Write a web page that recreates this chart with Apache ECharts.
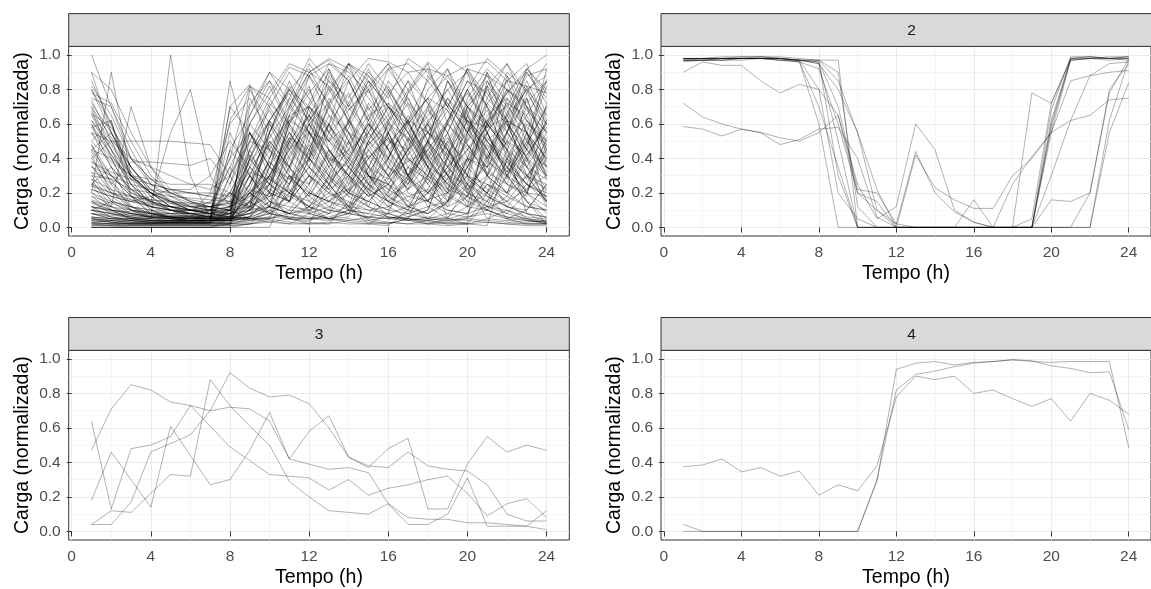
<!DOCTYPE html>
<html>
<head>
<meta charset="utf-8">
<script src="https://cdn.jsdelivr.net/npm/echarts@6/dist/echarts.min.js"></script>
<style>
  html, body { margin: 0; padding: 0; background: #ffffff; }
  #chart { width: 1151px; height: 589px; }
</style>
</head>
<body>
<div id="chart"></div>
<script>
// Hour of day for every profile point
const hours = [1,2,3,4,5,6,7,8,9,10,11,12,13,14,15,16,17,18,19,20,21,22,23,24];

// Axis breaks
const xTicks = [0, 4, 8, 12, 16, 20, 24];
const xMinorTicks = [2, 6, 10, 14, 18, 22];
const yTicks = [0, 0.2, 0.4, 0.6, 0.8, 1.0];
const yMinorTicks = [0.1, 0.3, 0.5, 0.7, 0.9];

// Facet labels
const clusterLabels = ['1', '2', '3', '4'];

// Normalised daily load profiles, cluster 1
const cluster1 = [
  [0.65,0.45,0.22,0.10,0.05,0.04,0.03,0.10,0.45,0.62,0.80,0.92,0.70,0.55,0.48,0.60,0.52,0.35,0.48,0.70,0.85,0.62,0.55,0.40],
  [0.05,0.03,0.02,0.02,0.02,0.02,0.02,0.30,0.72,0.85,0.60,0.40,0.88,0.65,0.30,0.25,0.45,0.68,0.55,0.22,0.30,0.75,0.62,0.48],
  [0.80,0.60,0.30,0.15,0.12,0.10,0.08,0.06,0.25,0.50,0.35,0.20,0.15,0.30,0.58,0.85,0.70,0.40,0.25,0.18,0.42,0.66,0.90,0.75],
  [0.12,0.06,0.04,0.03,0.03,0.03,0.03,0.02,0.10,0.12,0.08,0.10,0.15,0.12,0.10,0.08,0.12,0.16,0.20,0.35,0.55,0.30,0.15,0.10],
  [0.02,0.01,0.01,0.01,0.01,0.01,0.01,0.01,0.02,0.03,0.02,0.02,0.03,0.02,0.02,0.03,0.02,0.02,0.05,0.04,0.03,0.02,0.02,0.02],
  [0.45,0.30,0.18,0.12,0.10,0.08,0.10,0.40,0.82,0.75,0.93,0.88,0.95,0.90,0.78,0.92,0.95,0.85,0.70,0.92,0.88,0.80,0.72,0.85],
  [0.30,0.15,0.08,0.06,0.05,0.05,0.04,0.05,0.08,0.30,0.52,0.45,0.25,0.10,0.08,0.20,0.48,0.60,0.30,0.12,0.55,0.80,0.70,0.35],
  [0.20,0.90,0.30,0.20,0.15,0.10,0.08,0.20,0.15,0.40,0.62,0.55,0.38,0.45,0.30,0.18,0.25,0.40,0.22,0.55,0.68,0.42,0.30,0.25],
  [1.00,0.70,0.40,0.35,0.30,0.25,0.22,0.30,0.50,0.45,0.65,0.70,0.60,0.78,0.50,0.40,0.62,0.55,0.45,0.70,0.58,0.64,0.80,0.55],
  [0.58,0.62,0.18,0.08,0.06,0.05,0.05,0.04,0.06,0.18,0.22,0.12,0.08,0.28,0.42,0.30,0.12,0.08,0.20,0.65,0.90,0.55,0.38,0.62],
  [0.06,0.05,0.04,0.04,0.03,0.04,0.05,0.85,0.40,0.25,0.60,0.82,0.45,0.30,0.55,0.72,0.50,0.28,0.15,0.40,0.35,0.20,0.48,0.70],
  [0.15,0.12,0.70,0.35,0.18,0.12,0.10,0.10,0.35,0.20,0.42,0.60,0.38,0.22,0.50,0.35,0.60,0.75,0.45,0.30,0.20,0.38,0.25,0.18],
  [0.40,0.50,0.50,0.50,0.50,0.49,0.48,0.30,0.10,0.25,0.50,0.40,0.65,0.55,0.40,0.52,0.38,0.45,0.60,0.48,0.35,0.50,0.42,0.60],
  [0.10,0.08,0.06,0.05,1.00,0.30,0.05,0.04,0.15,0.55,0.32,0.70,0.50,0.60,0.85,0.55,0.30,0.50,0.85,0.62,0.45,0.28,0.60,0.50],
  [0.25,0.20,0.18,0.15,0.55,0.80,0.30,0.12,0.35,0.62,0.78,0.55,0.92,0.60,0.35,0.28,0.45,0.80,0.92,0.70,0.50,0.62,0.80,0.88],
  [0.03,0.02,0.02,0.02,0.02,0.02,0.02,0.03,0.80,0.60,0.35,0.15,0.10,0.08,0.30,0.15,0.10,0.05,0.04,0.05,0.62,0.85,0.55,0.30],
  [0.72,0.55,0.35,0.20,0.12,0.08,0.06,0.05,0.22,0.48,0.30,0.18,0.35,0.50,0.25,0.40,0.65,0.48,0.30,0.25,0.72,0.60,0.45,0.92],
  [0.08,0.05,0.05,0.04,0.04,0.04,0.04,0.04,0.05,0.05,0.10,0.25,0.60,0.95,0.80,0.52,0.30,0.15,0.10,0.08,0.12,0.10,0.06,0.05],
  [0.35,0.25,0.38,0.38,0.37,0.36,0.40,0.25,0.60,0.82,0.58,0.42,0.70,0.88,0.65,0.45,0.55,0.70,0.35,0.50,0.72,0.85,0.95,0.65],
  [0.18,0.10,0.08,0.06,0.06,0.05,0.05,0.06,0.18,0.38,0.25,0.48,0.30,0.18,0.12,0.35,0.22,0.50,0.68,0.40,0.18,0.12,0.25,0.20],
  [0.50,0.62,0.28,0.12,0.08,0.06,0.05,0.05,0.08,0.12,0.48,0.72,0.95,0.85,0.62,0.92,0.75,0.50,0.85,0.65,0.40,0.55,0.92,0.78],
  [0.01,0.01,0.00,0.00,0.00,0.00,0.00,0.00,0.45,0.20,0.05,0.02,0.25,0.12,0.02,0.01,0.10,0.35,0.05,0.02,0.01,0.40,0.15,0.02],
  [0.62,0.45,0.30,0.20,0.15,0.13,0.12,0.15,0.55,0.40,0.75,0.98,0.85,0.70,0.92,0.65,0.50,0.88,0.72,0.55,0.82,0.68,0.45,0.30],
  [0.22,0.18,0.15,0.13,0.12,0.10,0.12,0.18,0.32,0.28,0.20,0.35,0.25,0.40,0.30,0.22,0.35,0.28,0.40,0.55,0.38,0.30,0.45,0.35],
  [0.05,0.04,0.03,0.03,0.03,0.03,0.03,0.03,0.04,0.05,0.30,0.08,0.05,0.06,0.20,0.05,0.04,0.06,0.05,0.25,0.05,0.04,0.03,0.04],
  [0.68,0.40,0.20,0.15,0.12,0.10,0.10,0.12,0.20,0.35,0.55,0.40,0.30,0.62,0.85,0.70,0.58,0.35,0.28,0.70,0.55,0.32,0.75,0.42],
  [0.12,0.10,0.09,0.08,0.08,0.08,0.20,0.60,0.75,0.55,0.85,0.60,0.40,0.35,0.55,0.78,0.90,0.72,0.42,0.30,0.65,0.75,0.55,0.15],
  [0.28,0.12,0.06,0.04,0.03,0.03,0.03,0.08,0.30,0.15,0.08,0.12,0.20,0.15,0.10,0.12,0.18,0.22,0.10,0.08,0.30,0.20,0.12,0.10],
  [0.75,0.70,0.45,0.25,0.18,0.14,0.12,0.10,0.65,0.85,0.70,0.90,0.82,0.68,0.80,0.95,0.72,0.60,0.80,0.90,0.55,0.72,0.65,0.85],
  [0.00,0.00,0.00,0.00,0.00,0.00,0.00,0.05,0.20,0.30,0.45,0.55,0.50,0.40,0.60,0.50,0.45,0.55,0.48,0.20,0.15,0.08,0.05,0.03],
  [0.42,0.20,0.15,0.18,0.22,0.20,0.18,0.15,0.30,0.20,0.15,0.30,0.55,0.38,0.20,0.48,0.62,0.40,0.25,0.52,0.82,0.45,0.28,0.50],
  [0.08,0.05,0.04,0.03,0.03,0.03,0.03,0.70,0.83,0.45,0.22,0.10,0.05,0.08,0.25,0.12,0.06,0.10,0.42,0.68,0.30,0.12,0.08,0.06],
  [0.55,0.50,0.40,0.28,0.20,0.15,0.10,0.08,0.12,0.20,0.62,0.80,0.55,0.85,0.62,0.40,0.78,0.95,0.60,0.45,0.35,0.88,0.70,0.60],
  [0.15,0.08,0.05,0.05,0.05,0.04,0.04,0.04,0.10,0.62,0.40,0.25,0.45,0.28,0.18,0.25,0.12,0.30,0.22,0.18,0.48,0.35,0.20,0.45],
  [0.35,0.30,0.25,0.22,0.20,0.20,0.18,0.40,0.55,0.35,0.28,0.40,0.72,0.50,0.35,0.60,0.40,0.30,0.55,0.80,0.60,0.45,0.35,0.55],
  [0.02,0.02,0.02,0.02,0.02,0.02,0.02,0.02,0.02,0.10,0.05,0.03,0.02,0.15,0.05,0.03,0.02,0.04,0.02,0.03,0.20,0.05,0.02,0.02],
  [0.60,0.35,0.12,0.06,0.05,0.05,0.05,0.25,0.50,0.68,0.45,0.30,0.22,0.50,0.70,0.45,0.20,0.15,0.32,0.58,0.40,0.25,0.18,0.72],
  [0.10,0.15,0.12,0.10,0.08,0.10,0.15,0.20,0.12,0.55,0.75,0.62,0.80,0.95,0.88,0.75,0.98,0.90,0.70,0.62,0.58,0.78,0.92,1.00],
  [0.25,0.35,0.22,0.15,0.10,0.08,0.06,0.05,0.40,0.25,0.15,0.55,0.35,0.20,0.15,0.30,0.52,0.35,0.60,0.92,0.70,0.40,0.52,0.28],
  [0.05,0.03,0.02,0.02,0.02,0.02,0.02,0.02,0.03,0.12,0.50,0.65,0.38,0.20,0.15,0.10,0.28,0.50,0.30,0.15,0.10,0.18,0.40,0.22],
  [0.82,0.65,0.40,0.25,0.15,0.10,0.08,0.06,0.05,0.12,0.08,0.20,0.45,0.30,0.12,0.08,0.35,0.50,0.22,0.40,0.75,0.95,0.70,0.50],
  [0.38,0.32,0.28,0.25,0.22,0.22,0.30,0.50,0.35,0.48,0.62,0.70,0.58,0.48,0.65,0.72,0.62,0.75,0.68,0.50,0.62,0.70,0.58,0.48],
  [0.00,0.00,0.00,0.00,0.00,0.00,0.00,0.00,0.00,0.00,0.25,0.60,0.45,0.30,0.18,0.40,0.62,0.35,0.15,0.55,0.80,0.62,0.40,0.12],
  [0.48,0.25,0.12,0.08,0.06,0.06,0.05,0.06,0.15,0.08,0.30,0.18,0.10,0.35,0.22,0.55,0.35,0.20,0.12,0.35,0.60,0.48,0.65,0.38],
  [0.20,0.15,0.12,0.10,0.10,0.10,0.08,0.12,0.60,0.78,0.95,0.90,0.97,0.85,0.98,0.96,0.90,0.92,0.88,0.94,0.96,0.85,0.82,0.78],
  [0.03,0.04,0.03,0.02,0.03,0.03,0.10,0.35,0.20,0.08,0.15,0.40,0.25,0.12,0.45,0.30,0.15,0.05,0.08,0.18,0.10,0.05,0.10,0.25],
  [0.66,0.50,0.25,0.10,0.06,0.04,0.04,0.04,0.20,0.30,0.55,0.35,0.60,0.40,0.25,0.62,0.85,0.55,0.40,0.28,0.20,0.55,0.82,0.60],
  [0.12,0.10,0.05,0.04,0.04,0.04,0.04,0.12,0.40,0.70,0.90,0.75,0.55,0.42,0.60,0.35,0.25,0.48,0.75,0.55,0.90,0.72,0.50,0.35],
  [0.30,0.28,0.10,0.05,0.04,0.04,0.04,0.04,0.05,0.06,0.05,0.05,0.06,0.10,0.08,0.06,0.05,0.30,0.62,0.85,0.78,0.60,0.35,0.15],
  [0.90,0.55,0.30,0.20,0.12,0.08,0.06,0.10,0.30,0.15,0.40,0.62,0.45,0.25,0.40,0.52,0.30,0.62,0.45,0.25,0.15,0.30,0.50,0.82],
  [0.10,0.06,0.04,0.03,0.03,0.03,0.02,0.02,0.05,0.08,0.06,0.05,0.05,0.04,0.06,0.08,0.05,0.04,0.06,0.12,0.10,0.06,0.04,0.03],
  [0.25,0.10,0.05,0.04,0.04,0.03,0.03,0.04,0.06,0.15,0.12,0.10,0.18,0.22,0.15,0.10,0.08,0.12,0.15,0.25,0.18,0.12,0.08,0.06],
  [0.04,0.03,0.02,0.02,0.02,0.02,0.03,0.55,0.30,0.12,0.08,0.05,0.04,0.05,0.04,0.06,0.05,0.04,0.03,0.05,0.04,0.03,0.02,0.02],
  [0.55,0.40,0.18,0.08,0.05,0.04,0.04,0.04,0.05,0.08,0.06,0.05,0.10,0.08,0.06,0.05,0.08,0.20,0.35,0.22,0.10,0.06,0.05,0.04],
  [0.16,0.12,0.10,0.08,0.07,0.07,0.06,0.05,0.20,0.38,0.28,0.20,0.15,0.22,0.30,0.25,0.18,0.15,0.28,0.40,0.32,0.25,0.20,0.18],
  [0.02,0.02,0.01,0.01,0.01,0.01,0.01,0.01,0.02,0.04,0.02,0.08,0.30,0.12,0.04,0.02,0.05,0.02,0.01,0.02,0.15,0.45,0.08,0.03],
  [0.70,0.52,0.35,0.22,0.16,0.12,0.10,0.08,0.14,0.25,0.18,0.30,0.20,0.12,0.28,0.40,0.30,0.20,0.35,0.62,0.50,0.38,0.25,0.52],
  [0.08,0.07,0.06,0.06,0.06,0.05,0.05,0.05,0.06,0.20,0.65,0.88,0.72,0.95,0.68,0.82,0.60,0.40,0.55,0.30,0.25,0.20,0.30,0.45],
  [0.45,0.40,0.30,0.28,0.25,0.25,0.25,0.20,0.10,0.35,0.20,0.12,0.30,0.45,0.55,0.38,0.22,0.30,0.50,0.38,0.60,0.90,0.80,0.65],
  [0.32,0.18,0.10,0.08,0.06,0.05,0.05,0.30,0.55,0.35,0.65,0.50,0.82,0.62,0.45,0.30,0.50,0.65,0.80,0.60,0.45,0.62,0.55,0.40],
  [0.40,0.22,0.10,0.06,0.05,0.04,0.04,0.06,0.30,0.55,0.80,0.65,0.50,0.72,0.90,0.78,0.55,0.40,0.62,0.85,0.70,0.50,0.35,0.28],
  [0.06,0.04,0.03,0.03,0.03,0.03,0.04,0.45,0.65,0.90,0.72,0.55,0.35,0.58,0.80,0.62,0.40,0.25,0.50,0.72,0.88,0.65,0.45,0.60],
  [0.85,0.60,0.35,0.22,0.15,0.10,0.08,0.07,0.10,0.20,0.15,0.45,0.75,0.55,0.30,0.20,0.42,0.70,0.92,0.60,0.30,0.50,0.78,0.95],
  [0.18,0.14,0.10,0.09,0.08,0.08,0.08,0.10,0.22,0.18,0.30,0.25,0.42,0.30,0.22,0.35,0.28,0.20,0.32,0.45,0.62,0.48,0.30,0.22],
  [0.02,0.02,0.02,0.02,0.02,0.02,0.02,0.10,0.05,0.03,0.05,0.12,0.05,0.03,0.02,0.08,0.04,0.02,0.03,0.02,0.05,0.10,0.04,0.02],
  [0.62,0.48,0.30,0.18,0.10,0.06,0.05,0.05,0.12,0.40,0.68,0.90,0.98,0.92,0.75,0.60,0.80,0.96,0.85,0.70,0.60,0.78,0.90,0.72],
  [0.10,0.08,0.07,0.06,0.06,0.06,0.06,0.08,0.15,0.30,0.20,0.12,0.25,0.55,0.35,0.18,0.10,0.22,0.45,0.30,0.12,0.08,0.20,0.48],
  [0.48,0.30,0.20,0.16,0.14,0.12,0.12,0.14,0.25,0.60,0.45,0.65,0.52,0.38,0.62,0.80,0.60,0.42,0.30,0.45,0.58,0.80,0.68,0.55],
  [0.24,0.20,0.16,0.14,0.12,0.12,0.12,0.14,0.20,0.12,0.08,0.20,0.15,0.10,0.25,0.18,0.12,0.20,0.28,0.18,0.12,0.15,0.22,0.30],
  [0.78,0.72,0.50,0.30,0.20,0.15,0.12,0.10,0.35,0.25,0.60,0.45,0.30,0.20,0.50,0.70,0.55,0.35,0.20,0.30,0.85,0.70,0.92,0.80],
  [0.04,0.03,0.03,0.03,0.03,0.03,0.03,0.03,0.25,0.50,0.35,0.70,0.90,0.72,0.55,0.40,0.25,0.60,0.45,0.25,0.35,0.55,0.75,0.45],
  [0.32,0.28,0.22,0.20,0.18,0.17,0.16,0.15,0.12,0.18,0.35,0.55,0.42,0.62,0.48,0.30,0.38,0.55,0.70,0.92,0.75,0.62,0.40,0.30],
  [0.00,0.00,0.00,0.00,0.00,0.00,0.00,0.00,0.02,0.05,0.03,0.02,0.02,0.04,0.03,0.02,0.05,0.03,0.02,0.02,0.03,0.02,0.01,0.01],
  [0.55,0.35,0.22,0.15,0.12,0.10,0.09,0.08,0.20,0.12,0.25,0.40,0.28,0.18,0.32,0.48,0.62,0.38,0.25,0.15,0.28,0.40,0.62,0.45],
  [0.14,0.10,0.08,0.06,0.05,0.05,0.05,0.62,0.82,0.70,0.50,0.88,0.65,0.45,0.72,0.55,0.30,0.42,0.60,0.80,0.55,0.35,0.20,0.12],
  [0.70,0.45,0.25,0.14,0.10,0.08,0.07,0.06,0.08,0.15,0.10,0.08,0.12,0.20,0.40,0.25,0.12,0.08,0.15,0.30,0.20,0.12,0.10,0.25],
  [0.28,0.22,0.18,0.16,0.15,0.14,0.14,0.35,0.60,0.45,0.30,0.18,0.38,0.62,0.88,0.70,0.45,0.60,0.40,0.22,0.38,0.60,0.35,0.20],
  [0.08,0.06,0.05,0.05,0.04,0.04,0.04,0.05,0.06,0.35,0.70,0.95,0.80,0.62,0.40,0.55,0.78,0.92,0.70,0.48,0.30,0.55,0.85,0.62],
  [0.45,0.55,0.35,0.20,0.12,0.10,0.08,0.08,0.10,0.22,0.15,0.30,0.20,0.35,0.22,0.15,0.28,0.45,0.30,0.20,0.50,0.35,0.25,0.15],
  [0.36,0.20,0.12,0.08,0.06,0.06,0.06,0.20,0.45,0.72,0.60,0.78,0.92,0.70,0.52,0.65,0.85,0.72,0.55,0.80,0.98,0.88,0.62,0.50],
  [0.01,0.01,0.01,0.01,0.01,0.01,0.01,0.02,0.15,0.08,0.20,0.35,0.22,0.10,0.05,0.18,0.30,0.12,0.05,0.08,0.25,0.15,0.05,0.02],
  [0.60,0.42,0.28,0.20,0.15,0.12,0.10,0.10,0.12,0.30,0.52,0.40,0.25,0.40,0.60,0.45,0.28,0.15,0.40,0.65,0.45,0.25,0.55,0.85],
  [0.20,0.12,0.08,0.07,0.06,0.06,0.06,0.08,0.55,0.30,0.15,0.40,0.60,0.35,0.20,0.12,0.30,0.50,0.35,0.20,0.12,0.40,0.30,0.15],
  [0.90,0.80,0.55,0.35,0.22,0.15,0.12,0.10,0.25,0.45,0.35,0.60,0.72,0.85,0.60,0.45,0.30,0.45,0.62,0.78,0.60,0.45,0.70,0.55],
  [0.06,0.05,0.05,0.04,0.04,0.04,0.04,0.05,0.10,0.25,0.15,0.08,0.05,0.10,0.35,0.55,0.30,0.15,0.08,0.06,0.10,0.30,0.55,0.35],
  [0.26,0.16,0.10,0.08,0.07,0.07,0.07,0.45,0.30,0.55,0.82,0.68,0.50,0.35,0.48,0.62,0.75,0.55,0.42,0.62,0.50,0.32,0.48,0.70],
  [0.50,0.38,0.30,0.25,0.22,0.20,0.20,0.18,0.38,0.52,0.70,0.55,0.40,0.30,0.45,0.58,0.42,0.55,0.75,0.62,0.42,0.30,0.22,0.40],
  [0.03,0.02,0.02,0.02,0.02,0.02,0.02,0.02,0.04,0.06,0.20,0.45,0.70,0.50,0.30,0.15,0.08,0.05,0.04,0.06,0.08,0.05,0.04,0.03],
  [0.66,0.58,0.40,0.28,0.20,0.16,0.14,0.12,0.40,0.62,0.80,0.70,0.55,0.68,0.82,0.95,0.80,0.62,0.72,0.55,0.40,0.65,0.88,0.92],
  [0.15,0.10,0.08,0.07,0.06,0.06,0.06,0.06,0.08,0.12,0.35,0.22,0.12,0.08,0.15,0.28,0.45,0.25,0.12,0.18,0.40,0.62,0.30,0.15],
  [0.74,0.50,0.30,0.20,0.14,0.10,0.08,0.06,0.05,0.05,0.08,0.06,0.05,0.08,0.06,0.05,0.06,0.10,0.40,0.75,0.92,0.80,0.55,0.30],
  [0.12,0.09,0.07,0.06,0.06,0.06,0.06,0.70,0.55,0.35,0.25,0.50,0.32,0.20,0.35,0.22,0.15,0.28,0.20,0.12,0.25,0.18,0.12,0.10],
  [0.38,0.30,0.18,0.12,0.10,0.10,0.10,0.12,0.18,0.25,0.45,0.65,0.85,0.75,0.95,0.80,0.62,0.85,0.98,0.90,0.70,0.55,0.40,0.62],
  [0.05,0.04,0.04,0.03,0.03,0.03,0.03,0.04,0.12,0.08,0.05,0.04,0.08,0.20,0.12,0.06,0.04,0.05,0.15,0.40,0.60,0.45,0.20,0.08],
  [0.58,0.42,0.25,0.15,0.10,0.08,0.06,0.06,0.50,0.75,0.55,0.38,0.60,0.42,0.30,0.55,0.72,0.50,0.35,0.48,0.30,0.20,0.42,0.58],
  [0.22,0.18,0.15,0.12,0.10,0.10,0.10,0.20,0.42,0.28,0.50,0.35,0.22,0.30,0.18,0.25,0.40,0.30,0.18,0.12,0.20,0.35,0.50,0.32],
  [0.80,0.55,0.32,0.18,0.10,0.07,0.05,0.05,0.06,0.10,0.18,0.12,0.08,0.12,0.22,0.15,0.10,0.08,0.14,0.35,0.52,0.40,0.25,0.18],
  [0.10,0.08,0.06,0.05,0.05,0.05,0.05,0.08,0.70,0.90,0.80,0.62,0.78,0.95,0.85,0.70,0.60,0.75,0.88,0.70,0.82,0.95,0.78,0.60],
  [0.44,0.26,0.16,0.12,0.10,0.08,0.08,0.10,0.15,0.28,0.20,0.15,0.28,0.38,0.25,0.15,0.22,0.38,0.52,0.35,0.22,0.15,0.30,0.42],
  [0.00,0.00,0.00,0.00,0.00,0.00,0.00,0.02,0.40,0.62,0.48,0.30,0.15,0.25,0.50,0.70,0.55,0.32,0.20,0.38,0.55,0.30,0.15,0.05]
];

// Cluster 2: high at night, off during the day
const cluster2 = [
  [0.98,0.98,0.99,0.99,0.99,0.99,0.98,0.97,0.97,0.00,0.00,0.00,0.00,0.00,0.00,0.00,0.00,0.00,0.00,0.62,0.98,0.98,0.99,0.99],
  [0.97,0.97,0.98,0.98,0.99,0.98,0.97,0.96,0.30,0.00,0.00,0.00,0.00,0.00,0.00,0.00,0.00,0.00,0.00,0.60,0.97,0.98,0.98,0.98],
  [0.98,0.98,0.98,0.98,0.98,0.98,0.97,0.95,0.50,0.00,0.00,0.00,0.00,0.00,0.00,0.00,0.00,0.00,0.00,0.68,0.99,0.99,0.98,0.99],
  [0.97,0.98,0.98,0.98,0.98,0.97,0.96,0.60,0.00,0.00,0.00,0.00,0.00,0.00,0.00,0.00,0.00,0.00,0.00,0.55,0.97,0.98,0.98,0.97],
  [0.98,0.98,0.98,0.99,0.99,0.98,0.97,0.80,0.20,0.05,0.00,0.00,0.00,0.00,0.00,0.00,0.00,0.00,0.05,0.72,0.97,0.98,0.97,0.98],
  [0.96,0.97,0.97,0.97,0.98,0.97,0.96,0.70,0.35,0.00,0.00,0.00,0.00,0.00,0.00,0.00,0.00,0.00,0.00,0.00,0.00,0.00,0.62,0.97],
  [0.97,0.97,0.97,0.98,0.98,0.97,0.97,0.96,0.70,0.22,0.20,0.02,0.00,0.00,0.00,0.00,0.00,0.00,0.00,0.30,0.62,0.88,0.95,0.96],
  [0.98,0.98,0.98,0.98,0.98,0.98,0.97,0.97,0.85,0.55,0.10,0.00,0.00,0.00,0.00,0.00,0.00,0.00,0.00,0.00,0.00,0.20,0.78,0.98],
  [0.97,0.97,0.98,0.98,0.98,0.98,0.96,0.92,0.60,0.20,0.15,0.00,0.42,0.23,0.16,0.11,0.11,0.30,0.40,0.55,0.62,0.65,0.74,0.75],
  [0.90,0.96,0.94,0.94,0.85,0.78,0.83,0.80,0.65,0.25,0.05,0.12,0.60,0.45,0.10,0.03,0.00,0.00,0.00,0.58,0.98,0.99,0.98,0.98],
  [0.72,0.64,0.60,0.57,0.55,0.52,0.50,0.55,0.65,0.20,0.10,0.02,0.44,0.20,0.09,0.03,0.00,0.00,0.78,0.72,0.98,0.99,0.98,0.99],
  [0.585,0.57,0.53,0.57,0.55,0.48,0.51,0.57,0.58,0.40,0.06,0.00,0.00,0.00,0.00,0.16,0.00,0.00,0.00,0.16,0.15,0.20,0.80,0.95],
  [0.97,0.97,0.97,0.98,0.98,0.98,0.97,0.95,0.80,0.55,0.22,0.00,0.00,0.00,0.00,0.00,0.00,0.25,0.41,0.55,0.85,0.88,0.90,0.91],
  [0.98,0.98,0.98,0.98,0.98,0.98,0.97,0.97,0.90,0.12,0.00,0.00,0.00,0.00,0.00,0.00,0.00,0.00,0.00,0.00,0.00,0.00,0.55,0.84]
];

// Cluster 3: daytime profiles fading towards the evening
const cluster3 = [
  [0.47,0.71,0.85,0.82,0.75,0.73,0.70,0.72,0.71,0.64,0.42,0.39,0.36,0.37,0.34,0.16,0.08,0.07,0.07,0.05,0.05,0.04,0.03,0.12],
  [0.64,0.13,0.48,0.50,0.55,0.73,0.61,0.49,0.41,0.33,0.32,0.31,0.24,0.30,0.21,0.25,0.27,0.30,0.32,0.22,0.09,0.16,0.19,0.08],
  [0.18,0.46,0.30,0.14,0.61,0.44,0.27,0.30,0.47,0.69,0.42,0.58,0.67,0.43,0.37,0.48,0.54,0.13,0.13,0.39,0.55,0.46,0.50,0.47],
  [0.04,0.04,0.17,0.46,0.51,0.56,0.70,0.92,0.83,0.78,0.79,0.74,0.60,0.43,0.38,0.37,0.46,0.38,0.36,0.35,0.27,0.10,0.06,0.06],
  [0.04,0.12,0.11,0.22,0.33,0.32,0.88,0.73,0.61,0.50,0.29,0.20,0.12,0.11,0.10,0.16,0.04,0.04,0.10,0.31,0.03,0.03,0.03,0.01]
];

// Cluster 4: off at night, high from midday on
const cluster4 = [
  [0.375,0.385,0.42,0.345,0.37,0.32,0.35,0.21,0.27,0.235,0.38,0.78,0.90,0.88,0.90,0.80,0.82,0.77,0.725,0.77,0.64,0.80,0.76,0.68],
  [0.04,0.00,0.00,0.00,0.00,0.00,0.00,0.00,0.00,0.00,0.29,0.94,0.975,0.985,0.965,0.98,0.985,0.995,0.985,0.98,0.985,0.985,0.985,0.485],
  [0.00,0.00,0.00,0.00,0.00,0.00,0.00,0.00,0.00,0.00,0.30,0.82,0.91,0.93,0.955,0.975,0.985,0.995,0.99,0.96,0.945,0.92,0.925,0.59]
];

const clusters = [cluster1, cluster2, cluster3, cluster4];

const FONT = '"Liberation Sans", Arial, sans-serif';

// Panel layout (pixels)
const panels = [
  { left: 68.7, top: 46.4, width: 500.6, height: 189.6 },
  { left: 661.0, top: 46.4, width: 501.0, height: 189.6 },
  { left: 68.7, top: 350.3, width: 500.6, height: 190.7 },
  { left: 661.0, top: 350.3, width: 501.0, height: 190.7 }
];
const STRIP_H = 32.8;

const grids = panels.map(p => ({
  left: p.left, top: p.top, width: p.width, height: p.height,
  show: true, borderColor: '#333333', borderWidth: 1, backgroundColor: 'transparent',
  containLabel: false
}));

const xMin = -0.15, xMax = 25.15, yMin = -0.05, yMax = 1.05;

const mainX = panels.map((p, i) => ({
  type: 'value', gridIndex: i, min: xMin, max: xMax,
  name: 'Tempo (h)', nameLocation: 'middle', nameGap: 28,
  nameTextStyle: { fontSize: 19.5, color: '#000000', fontFamily: FONT },
  axisLine: { show: false },
  axisTick: { show: true, length: 5, customValues: xTicks, lineStyle: { color: '#333333', width: 1 } },
  axisLabel: { customValues: xTicks, margin: 9, fontSize: 15.5, color: '#4D4D4D', fontFamily: FONT },
  splitLine: { show: true, lineStyle: { color: '#EBEBEB', width: 1.1 } }
}));
const minorX = panels.map((p, i) => ({
  type: 'value', gridIndex: i, min: xMin, max: xMax, position: 'top',
  axisLine: { show: false },
  axisTick: { show: false, customValues: xMinorTicks },
  axisLabel: { show: false, customValues: xMinorTicks },
  splitLine: { show: true, lineStyle: { color: '#F2F2F2', width: 0.7 } }
}));
const mainY = panels.map((p, i) => ({
  type: 'value', gridIndex: i, min: yMin, max: yMax,
  name: 'Carga (normalizada)', nameLocation: 'middle', nameGap: 36, nameRotate: 90,
  nameTextStyle: { fontSize: 19.5, color: '#000000', fontFamily: FONT },
  axisLine: { show: false },
  axisTick: { show: true, length: 5, customValues: yTicks, lineStyle: { color: '#333333', width: 1 } },
  axisLabel: { customValues: yTicks, margin: 8, fontSize: 15.5, color: '#4D4D4D', fontFamily: FONT,
               formatter: v => Number(v).toFixed(1) },
  splitLine: { show: true, lineStyle: { color: '#EBEBEB', width: 1.1 } }
}));
const minorY = panels.map((p, i) => ({
  type: 'value', gridIndex: i, min: yMin, max: yMax, position: 'right',
  axisLine: { show: false },
  axisTick: { show: false, customValues: yMinorTicks },
  axisLabel: { show: false, customValues: yMinorTicks },
  splitLine: { show: true, lineStyle: { color: '#F2F2F2', width: 0.7 } }
}));

// One thin translucent line per profile
const lineColour = ['rgba(0,0,0,0.42)', 'rgba(0,0,0,0.38)', 'rgba(0,0,0,0.38)', 'rgba(0,0,0,0.38)'];
const series = [];
clusters.forEach((rows, i) => {
  rows.forEach(values => {
    series.push({
      type: 'line', xAxisIndex: i, yAxisIndex: i,
      data: hours.map((h, k) => [h, values[k]]),
      showSymbol: false, symbol: 'none', silent: true,
      lineStyle: { color: lineColour[i], width: 0.8 },
      emphasis: { disabled: true }
    });
  });
});

// Facet strips
const graphic = [];
panels.forEach((p, i) => {
  graphic.push({
    type: 'rect', silent: true, z: 10,
    shape: { x: p.left, y: p.top - STRIP_H, width: p.width, height: STRIP_H },
    style: { fill: '#D9D9D9', stroke: '#333333', lineWidth: 1 }
  });
  graphic.push({
    type: 'text', silent: true, z: 11,
    x: p.left + p.width / 2, y: p.top - STRIP_H / 2 + 1,
    style: { text: clusterLabels[i], fontSize: 15.5, fill: '#1A1A1A', fontFamily: FONT,
             align: 'center', verticalAlign: 'middle' }
  });
});

const chart = echarts.init(document.getElementById('chart'), null, { renderer: 'canvas' });
chart.setOption({
  animation: false,
  backgroundColor: '#ffffff',
  textStyle: { fontFamily: FONT },
  grid: grids,
  xAxis: mainX.concat(minorX),
  yAxis: mainY.concat(minorY),
  series: series,
  graphic: graphic
});
</script>
</body>
</html>
